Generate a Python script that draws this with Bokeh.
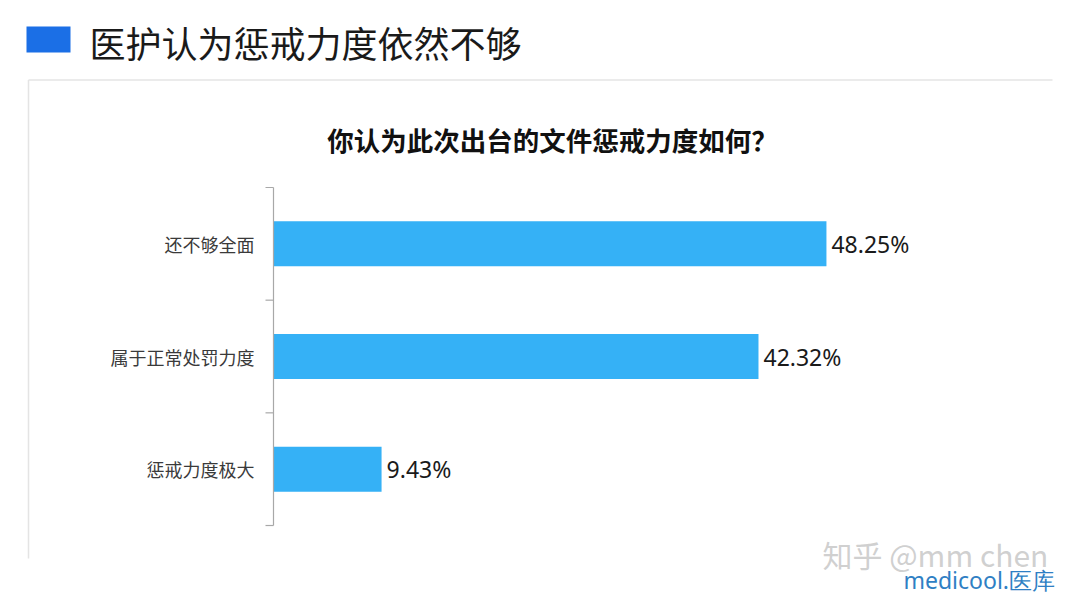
from bokeh.plotting import figure
from bokeh.models import Range1d, ColumnDataSource
from bokeh.core.properties import value
from bokeh.embed import file_html
from bokeh.resources import INLINE

# ---- data ----
categories = ["还不够全面", "属于正常处罚力度", "惩戒力度极大"]
percentages = [48.25, 42.32, 9.43]
value_labels = ["48.25%", "42.32%", "9.43%"]
header_text = "医护认为惩戒力度依然不够"
chart_title = "你认为此次出台的文件惩戒力度如何？"
watermark_1 = "知乎 @mm chen"
watermark_2 = "medicool.医库"

# ---- layout constants (pixels) ----
W, H = 1078, 606
M = 0                 # offset of figure within the screenshot
X0 = 273.0            # pixel where value 0 sits
S = 11.46             # pixels per percentage point
Y0 = 187.0            # pixel of top category boundary
B = 112.67            # pixels per category band

def px(ix):  # image x pixel -> data x
    return (ix - M - X0) / S

def py(iy):  # image y pixel -> data y
    return (iy - M - Y0) / B

p = figure(width=W, height=H, output_backend="svg", toolbar_location=None,
           x_range=Range1d(-X0 / S, (W - X0) / S),
           y_range=Range1d((H - Y0) / B, -Y0 / B),
           x_axis_type=None, y_axis_type=None, min_border=0,
           outline_line_color=None, background_fill_color="white",
           border_fill_color="white")
p.grid.visible = False

CJK = value("Noto Sans CJK SC")

# header block
p.quad(left=[px(26)], right=[px(70)], top=[py(26)], bottom=[py(52)],
       fill_color="#1b6fe6", line_color=None)
p.text(x=[px(89)], y=[py(41)], text=[header_text], text_font=CJK,
       text_font_size="36px", text_color="#1a1a1a", text_baseline="middle",
       text_align="left")

# light panel frame
p.segment(x0=[px(28), px(28)], y0=[py(79.5), py(79.5)],
          x1=[px(1052), px(28)], y1=[py(79.5), py(558)],
          line_color="#e4e4e4", line_width=1.5)

# chart title
p.text(x=[px(552)], y=[py(139)], text=[chart_title], text_font=CJK,
       text_font_size="26.5px", text_font_style="bold", text_color="#111111",
       text_align="center", text_baseline="middle")

# data
n = len(categories)
centers = [i + 0.5 for i in range(n)]
src = ColumnDataSource(dict(cat=categories, val=percentages, lab=value_labels, y=centers))

p.hbar(y="y", left=0, right="val", height=0.4, source=src,
       fill_color="#35b1f6", line_color=None)

# axis line and boundary ticks
tick_len = 8 / S
p.segment(x0=[0], y0=[0], x1=[0], y1=[n], line_color="#a8a8a8", line_width=1.2)
p.segment(x0=[-tick_len] * (n + 1), y0=list(range(n + 1)),
          x1=[0] * (n + 1), y1=list(range(n + 1)),
          line_color="#a8a8a8", line_width=1.2)

# category labels
p.text(x=0, y="y", text="cat", source=src, x_offset=-19, text_align="right",
       text_baseline="middle", text_font=CJK, text_font_size="18px",
       text_color="#3a3a3a")

# value labels
p.text(x="val", y="y", text="lab", source=src, x_offset=5, text_align="left",
       text_baseline="middle", text_font=value("Noto Sans"),
       text_font_size="23px", text_color="#1a1a1a")

# watermark
p.text(x=[px(822)], y=[py(553)], text=[watermark_1], text_font=CJK,
       text_font_size="30px", text_color="#c4c4c4", text_alpha=0.8,
       text_align="left", text_baseline="middle")
p.text(x=[px(903)], y=[py(579)], text=[watermark_2], text_font=value("Noto Sans"),
       text_font_size="23px", text_color="#2f7fc4", text_align="left",
       text_baseline="middle")

open("out.html", "w").write(file_html(p, INLINE))
